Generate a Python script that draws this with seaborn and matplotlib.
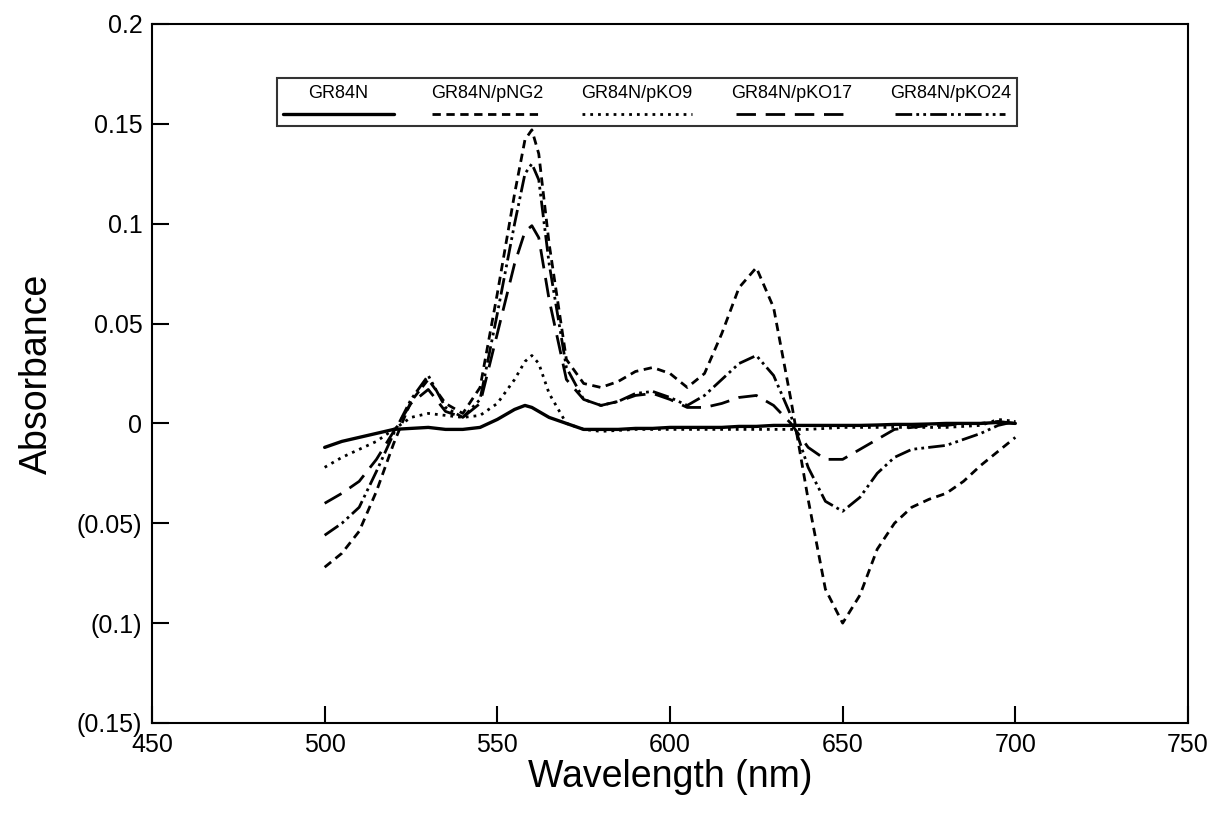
import seaborn as sns
import matplotlib.pyplot as plt
import pandas as pd
from matplotlib.offsetbox import VPacker

# wavelength grid (nm)
wavelength = [500, 505, 510, 515, 520, 525, 530, 535, 540, 545, 550, 555, 558, 560, 562, 565,
              570, 575, 580, 585, 590, 595, 600, 605, 610, 615, 620, 625, 630, 635, 640, 645,
              650, 655, 660, 665, 670, 675, 680, 685, 690, 695, 700]

gr84n = [-0.012, -0.009, -0.007, -0.005, -0.003, -0.0025, -0.002, -0.003, -0.003, -0.002, 0.002,
         0.007, 0.009, 0.008, 0.006, 0.003, 0.0, -0.003, -0.003, -0.003, -0.0025, -0.0025, -0.002,
         -0.002, -0.002, -0.002, -0.0015, -0.0015, -0.001, -0.001, -0.001, -0.001, -0.001, -0.001,
         -0.0008, -0.0005, -0.0005, -0.0003, 0.0, 0.0, 0.0, 0.0005, 0.0]

png2 = [-0.072, -0.065, -0.054, -0.034, -0.010, 0.011, 0.022, 0.010, 0.005, 0.018, 0.065,
        0.115, 0.142, 0.147, 0.135, 0.090, 0.032, 0.020, 0.018, 0.021, 0.026, 0.028, 0.025,
        0.018, 0.025, 0.045, 0.068, 0.078, 0.058, 0.012, -0.038, -0.083, -0.100, -0.086,
        -0.063, -0.050, -0.042, -0.038, -0.035, -0.029, -0.021, -0.014, -0.007]

pko9 = [-0.022, -0.017, -0.013, -0.009, -0.003, 0.003, 0.005, 0.004, 0.003, 0.004, 0.010,
        0.022, 0.031, 0.034, 0.030, 0.015, 0.0, -0.003, -0.004, -0.0035, -0.003, -0.003, -0.003,
        -0.003, -0.003, -0.003, -0.003, -0.003, -0.003, -0.003, -0.003, -0.0025, -0.002, -0.002,
        -0.002, -0.002, -0.002, -0.002, -0.002, -0.0015, -0.001, 0.002, 0.001]

pko17 = [-0.040, -0.035, -0.029, -0.018, -0.004, 0.010, 0.017, 0.006, 0.003, 0.010, 0.045,
         0.080, 0.096, 0.099, 0.093, 0.062, 0.022, 0.012, 0.009, 0.011, 0.014, 0.015, 0.012,
         0.008, 0.008, 0.010, 0.013, 0.014, 0.009, 0.0, -0.012, -0.018, -0.018, -0.013, -0.008,
         -0.003, -0.002, -0.001, -0.001, 0.0, 0.0, 0.001, 0.0]

pko24 = [-0.056, -0.050, -0.042, -0.024, -0.005, 0.012, 0.024, 0.008, 0.003, 0.012, 0.055,
         0.100, 0.125, 0.130, 0.122, 0.080, 0.028, 0.012, 0.009, 0.011, 0.015, 0.016, 0.013,
         0.009, 0.014, 0.022, 0.030, 0.034, 0.024, 0.004, -0.022, -0.039, -0.044, -0.037,
         -0.025, -0.017, -0.013, -0.012, -0.011, -0.008, -0.005, -0.001, 0.001]

strains = ["GR84N", "GR84N/pNG2", "GR84N/pKO9", "GR84N/pKO17", "GR84N/pKO24"]
series = [gr84n, png2, pko9, pko17, pko24]

yticks = [0.2, 0.15, 0.1, 0.05, 0, -0.05, -0.1, -0.15]
ytick_labels = ["0.2", "0.15", "0.1", "0.05", "0", "(0.05)", "(0.1)", "(0.15)"]
xticks = [450, 500, 550, 600, 650, 700, 750]

df = pd.concat([pd.DataFrame({"Wavelength": wavelength, "Absorbance": s, "Strain": n})
                for n, s in zip(strains, series)], ignore_index=True)

sns.set_style("white")
plt.rcParams["font.family"] = ["Liberation Sans", "DejaVu Sans"]
plt.rcParams.update({"text.color": "black", "axes.labelcolor": "black",
                     "xtick.color": "black", "ytick.color": "black"})

dash_styles = {
    "GR84N": "",
    "GR84N/pNG2": (3, 2),
    "GR84N/pKO9": (1, 1.8),
    "GR84N/pKO17": (7, 3.5),
    "GR84N/pKO24": (6, 1.5, 1, 1.5, 1, 1.5),
}

fig = plt.figure(figsize=(12.12, 8.16), dpi=100)
ax = fig.add_axes([0.1254, 0.114, 0.8548, 0.8566])
sns.lineplot(data=df, x="Wavelength", y="Absorbance", hue="Strain", style="Strain",
             hue_order=strains, style_order=strains, dashes=dash_styles,
             palette=["black"] * 5, linewidth=2, legend=False, ax=ax)
for ln, n in zip(ax.get_lines(), strains):
    ln.set_label(n)
ax.get_lines()[0].set_linewidth(2.4)

ax.set_xlim(450, 750)
ax.set_ylim(-0.15, 0.2)
ax.set_xticks(xticks)
ax.set_yticks(yticks)
ax.set_yticklabels(ytick_labels)
ax.tick_params(direction="in", length=12, width=1.5, labelsize=18, pad=7,
               top=False, right=False, left=True, bottom=True)
for sp in ax.spines.values():
    sp.set_linewidth(1.5)
    sp.set_color("black")
ax.set_xlabel("Wavelength (nm)", fontsize=27, labelpad=2)
ax.set_ylabel("Absorbance", fontsize=27, labelpad=16)

leg = ax.legend(handles=ax.get_lines(), labels=strains, ncol=5, loc="upper left",
                bbox_to_anchor=(0.112, 0.935), markerfirst=False, frameon=True,
                fancybox=False, edgecolor="black", fontsize=13, handlelength=6.1,
                columnspacing=2.1, borderpad=0.35)
leg.get_frame().set_linewidth(1.5)
# stack each label above its line sample
for col in leg._legend_handle_box.get_children():
    for item in col.get_children():
        item.__class__ = VPacker
        item.align = "center"
        item.sep = 4

fig.savefig("out.png", dpi=100)
